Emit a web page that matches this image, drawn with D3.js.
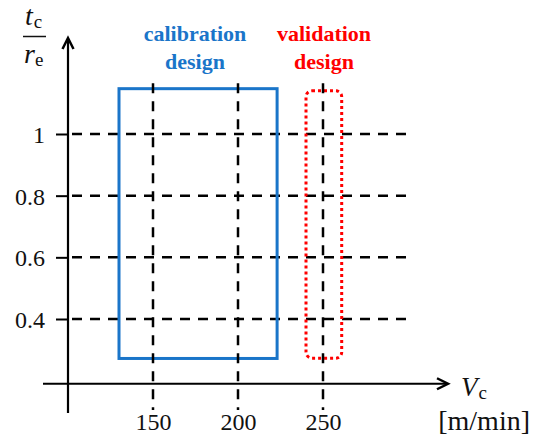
<!DOCTYPE html>
<html>
<head>
<meta charset="utf-8">
<script src="https://cdn.jsdelivr.net/npm/d3@7"></script>
<style>
  body { margin: 0; background: #fff; }
  svg text { font-family: "Liberation Serif", "Times New Roman", serif; }
</style>
</head>
<body>
<div id="chart"></div>
<script>
// data
var xTicks = [150, 200, 250];
var yTicks = [0.4, 0.6, 0.8, 1];
var calibration = { v: [130, 223], t: [0.272, 1.147] };
var validation = { v: [240, 261], t: [0.273, 1.14] };
var gridTop = 1.165, gridBottom = 0.105, gridRight = 303.5;
var originV = 100, originT = 0.19;

var svg = d3.select('#chart')
  .append('svg')
  .attr('width', 533)
  .attr('height', 437);

var x = d3.scaleLinear().domain([150, 250]).range([153, 323]);
var y = d3.scaleLinear().domain([0.4, 1]).range([319, 134]);

var x0 = x(originV), y0 = y(originT);

// horizontal dashed grid
svg.append('g')
  .selectAll('line')
  .data(yTicks)
  .enter()
  .append('line')
  .attr('x1', x0)
  .attr('y1', function (d) { return y(d); })
  .attr('x2', x(gridRight))
  .attr('y2', function (d) { return y(d); })
  .attr('stroke', '#000')
  .attr('stroke-width', 2.5)
  .attr('stroke-dasharray', '10,8')
  .attr('stroke-dashoffset', -4);

// calibration box
svg.append('rect')
  .attr('x', x(calibration.v[0]))
  .attr('y', y(calibration.t[1]))
  .attr('width', x(calibration.v[1]) - x(calibration.v[0]))
  .attr('height', y(calibration.t[0]) - y(calibration.t[1]))
  .attr('fill', 'none')
  .attr('stroke', '#1A75C9')
  .attr('stroke-width', 3);

// validation box
svg.append('rect')
  .attr('x', x(validation.v[0]))
  .attr('y', y(validation.t[1]))
  .attr('width', x(validation.v[1]) - x(validation.v[0]))
  .attr('height', y(validation.t[0]) - y(validation.t[1]))
  .attr('rx', 6)
  .attr('fill', 'none')
  .attr('stroke', '#FF0000')
  .attr('stroke-width', 3)
  .attr('stroke-dasharray', '3,3');

// vertical dashed grid
svg.append('g')
  .selectAll('line')
  .data(xTicks)
  .enter()
  .append('line')
  .attr('x1', function (d) { return x(d); })
  .attr('y1', y(gridTop))
  .attr('x2', function (d) { return x(d); })
  .attr('y2', y(gridBottom))
  .attr('stroke', '#000')
  .attr('stroke-width', 2.5)
  .attr('stroke-dasharray', '10,8');

// y axis ticks + labels
var yAxis = svg.append('g')
  .attr('transform', 'translate(' + x0 + ',0)')
  .call(d3.axisLeft(y).tickValues(yTicks).tickSize(12).tickPadding(11).tickFormat(d3.format('')));
yAxis.select('.domain').remove();
yAxis.selectAll('line').attr('stroke', '#000').attr('stroke-width', 2);
yAxis.selectAll('text')
  .attr('font-size', 24)
  .attr('fill', '#111')
  .attr('dy', '0.36em');

// x axis labels
var xAxis = svg.append('g')
  .attr('transform', 'translate(0,' + y0 + ')')
  .call(d3.axisBottom(x).tickValues(xTicks).tickSize(0).tickPadding(29).tickFormat(d3.format('')));
xAxis.select('.domain').remove();
xAxis.selectAll('text')
  .attr('font-size', 24)
  .attr('fill', '#111');

// axis lines with open arrows
var axisStroke = 2.2;
svg.append('line')
  .attr('x1', x0).attr('y1', 413)
  .attr('x2', x0).attr('y2', 39)
  .attr('stroke', '#000').attr('stroke-width', axisStroke);
svg.append('path')
  .attr('d', 'M' + (x0 - 5.5) + ',49L' + x0 + ',38L' + (x0 + 5.5) + ',49')
  .attr('fill', 'none').attr('stroke', '#000').attr('stroke-width', 2.5);

svg.append('line')
  .attr('x1', 43).attr('y1', y0)
  .attr('x2', 447).attr('y2', y0)
  .attr('stroke', '#000').attr('stroke-width', axisStroke);
svg.append('path')
  .attr('d', 'M437,' + (y0 - 5.5) + 'L448,' + y0 + 'L437,' + (y0 + 5.5))
  .attr('fill', 'none').attr('stroke', '#000').attr('stroke-width', 2.5);

// box captions
function caption(lines, cx, color) {
  var t = svg.append('text')
    .attr('text-anchor', 'middle')
    .attr('font-weight', 'bold')
    .attr('font-size', 22)
    .attr('fill', color);
  lines.forEach(function (s, i) {
    t.append('tspan').attr('x', cx).attr('y', 41 + i * 28).text(s);
  });
}
caption(['calibration', 'design'], 195, '#1A75C9');
caption(['validation', 'design'], 324, '#FF0000');

// y axis title: t_c / r_e
var tc = svg.append('text').attr('x', 25).attr('y', 25).attr('fill', '#111');
tc.append('tspan').attr('font-style', 'italic').attr('font-size', 28).text('t');
tc.append('tspan').attr('font-size', 19).attr('dx', 1).attr('dy', 3).text('c');
svg.append('line')
  .attr('x1', 23).attr('y1', 36.5).attr('x2', 46).attr('y2', 36.5)
  .attr('stroke', '#111').attr('stroke-width', 1.5);
var re = svg.append('text').attr('x', 24).attr('y', 63).attr('fill', '#111');
re.append('tspan').attr('font-style', 'italic').attr('font-size', 28).text('r');
re.append('tspan').attr('font-size', 19).attr('dx', 0).attr('dy', 3).text('e');

// x axis title
var vc = svg.append('text').attr('x', 461).attr('y', 396).attr('fill', '#111');
vc.append('tspan').attr('font-style', 'italic').attr('font-size', 27).text('V');
vc.append('tspan').attr('font-size', 19).attr('dx', 1).attr('dy', 3).text('c');
svg.append('text')
  .attr('x', 530).attr('y', 430)
  .attr('text-anchor', 'end')
  .attr('font-size', 28)
  .attr('fill', '#111')
  .text('[m/min]');
</script>
</body>
</html>
